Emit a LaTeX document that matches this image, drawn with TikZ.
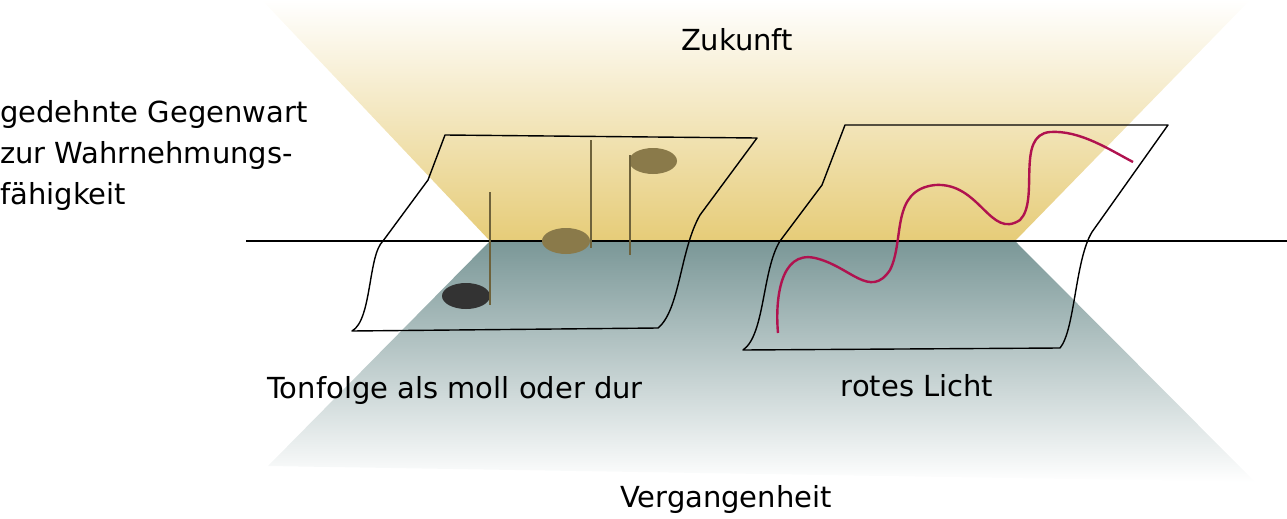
\documentclass[tikz,border=0pt]{standalone}
\usepackage{fontspec}
\setmainfont{DejaVu Sans}
\usetikzlibrary{positioning}
\definecolor{gold}{HTML}{E6CC78}
\definecolor{slate}{HTML}{7A9797}
\definecolor{wine}{HTML}{B0124F}
\definecolor{olive}{HTML}{8A7A4A}
\tikzset{
  sheet/.style={draw=black, line width=1.4pt, line join=round},
  label/.style={font=\fontsize{29}{41}\selectfont, inner sep=0pt},
  stem/.style={draw=olive!80!black, line width=2.2pt}
}
\begin{document}
\begin{tikzpicture}[x=1pt, y=-1pt]
	\useasboundingbox (0,0) rectangle (1287,519);
	% cones
	\shade [top color=white, bottom color=gold] (262,0) -- (1250,0) -- (1015,241) -- (490,241) -- cycle;
	\shade [top color=slate, bottom color=white] (490,241) -- (1015,241) -- (1255,482) -- (268,466) -- cycle;
	\draw [line width=1.4pt] (246,241) -- (1287,241);
	
	% left sheet
	\draw [sheet] (445,135) -- (757,138) -- (700,215) .. controls (680,250) and (680,310) .. (658,328) -- (352,331) .. controls (372,320) and (368,255) .. (383,241) -- (428,180) -- cycle;
	\fill [black!80] (466,296) ellipse (24 and 13);
	\fill [olive] (566,241) ellipse (24 and 13);
	\fill [olive] (653,161) ellipse (24 and 13);
	\draw [stem] (490,192) -- (490,305);
	\draw [stem] (591,140) -- (591,248);
	\draw [stem] (630,155) -- (630,255);
	
	% right sheet
	\draw [sheet] (845,125) -- (1168,125) -- (1092,232) .. controls (1075,260) and (1075,330) .. (1060,348) -- (743,350) .. controls (765,335) and (762,270) .. (780,241) -- (822,185) -- cycle;
	\draw [wine, line width=2.4pt] (778,333) .. controls (775,300) and (780,250) .. (815,258) .. controls (850,266) and (870,300) .. (890,270) .. controls (905,240) and (890,190) .. (935,185) .. controls (980,182) and (990,240) .. (1020,220) .. controls (1040,200) and (1015,135) .. (1050,132) .. controls (1080,130) and (1110,150) .. (1133,162);
	
	% labels
	\node [label] (future) at (737,40) {Zukunft};
	\node [label, anchor=north west, align=left] (present) at (0,100) {gedehnte Gegenwart\\zur Wahrnehmungs-\\fähigkeit};
	\node [label] (tones) at (455,390) {Tonfolge als moll oder dur};
	\node [label] (light) at (917,386) {rotes Licht};
	\node [label] (past) at (726,499) {Vergangenheit};
\end{tikzpicture}
\end{document}
